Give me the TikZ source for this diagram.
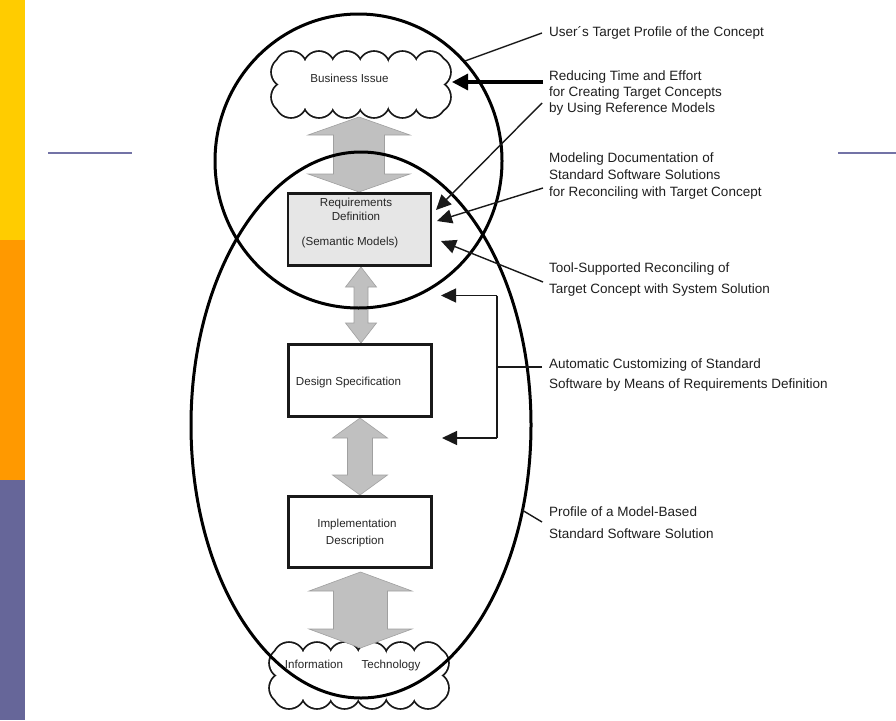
\documentclass[tikz,border=0pt]{standalone}
\usepackage{fontspec}
\setmainfont{Liberation Sans}
\usetikzlibrary{arrows.meta}
\definecolor{baryel}{HTML}{FFCC00}
\definecolor{barora}{HTML}{FF9900}
\definecolor{barpur}{HTML}{666699}
\definecolor{rulepur}{HTML}{7373A6}
\definecolor{arrgray}{HTML}{C0C0C0}
\definecolor{arredge}{HTML}{A0A0A0}
\definecolor{reqfill}{HTML}{E6E6E6}
\newcommand\dblarrow[6]{% cx, ytop, ybot, shaft half, head half, head length
  \filldraw[grayarr] (#1,#2) -- ({#1+#5},{#2+#6}) -- ({#1+#4},{#2+#6}) -- ({#1+#4},{#3-#6}) -- ({#1+#5},{#3-#6}) -- (#1,#3) -- ({#1-#5},{#3-#6}) -- ({#1-#4},{#3-#6}) -- ({#1-#4},{#2+#6}) -- ({#1-#5},{#2+#6}) -- cycle;}
\newcommand\cloudbumps[1]{%
  \foreach \cx in {291,319,346.5,374,402.5,430} {
    \path[#1] (\cx,67) circle[radius=15];
    \path[#1] (\cx,102) circle[radius=15];
  }
  \foreach \cy in {72,97} {
    \path[#1] (287,\cy) circle[radius=15];
    \path[#1] (435,\cy) circle[radius=15];
  }
}
\newcommand\cloudshape{%
  \cloudbumps{draw=black!90, line width=3.6pt}
  \cloudbumps{fill=white}
  \fill[white] (287,67) rectangle (435,102);
}
\begin{document}
\begin{tikzpicture}[x=1pt,y=-1pt,
  grayarr/.style={fill=arrgray, draw=arredge, line width=0.6pt},
  box/.style={draw=black!90, line width=2.8pt, minimum width=143pt, inner sep=0pt},
  boxtext/.style={font=\fontsize{11.6}{14}\selectfont, text=black!85, inner sep=0pt, anchor=base},
  lab/.style={font=\fontsize{13.5}{16}\selectfont, text=black!88, inner sep=0pt, anchor=base west},
  bigline/.style={draw=black, line width=3pt},
  thinln/.style={draw=black!90, line width=1.4pt},
  thinarr/.style={thinln, -{Triangle[length=15pt,width=14pt]}},
  thickarr/.style={draw=black, line width=3.2pt, -{Triangle[length=16pt,width=16pt]}},
  rule/.style={draw=rulepur, line width=2pt}
]
\useasboundingbox (0,0) rectangle (896,720);
\fill[white] (0,0) rectangle (896,720);
% side bar
\fill[baryel] (0,0) rectangle (25,240);
\fill[barora] (0,240) rectangle (25,480);
\fill[barpur] (0,480) rectangle (25,720);
% rules
\draw[rule] (48,152.5) -- (132,152.5);
\draw[rule] (838,152.5) -- (896,152.5);
% clouds
\begin{scope}
  \cloudshape
\end{scope}
\begin{scope}[shift={(-2,591)}]
  \cloudshape
\end{scope}
\node[boxtext] (biz) at (349.5,82) {Business Issue};
\node[boxtext] (inf) at (314,668) {Information};
\node[boxtext] (tec) at (391,668) {Technology};
% gray double arrows
\dblarrow{359}{117}{192}{25.5}{51}{18}
\dblarrow{361}{267}{343}{7}{15.5}{20}
\dblarrow{360}{418}{495}{12.5}{27.5}{20}
\dblarrow{360.5}{572}{648}{27}{51.5}{19}
% boxes
\node[box, fill=reqfill, minimum height=72pt] (req) at (359.5,229.5) {};
\node[box, fill=white, minimum height=72pt] (des) at (360,380.5) {};
\node[box, fill=white, minimum height=71pt] (imp) at (360,532) {};
\node[boxtext] (req1) at (356,206.5) {Requirements};
\node[boxtext] (req2) at (356,220) {Definition};
\node[boxtext] (req3) at (350,245) {(Semantic Models)};
\node[boxtext] (des1) at (348.5,385) {Design Specification};
\node[boxtext] (imp1) at (357,527) {Implementation};
\node[boxtext] (imp2) at (355,544) {Description};
% profile outlines
\draw[bigline] (358.5,161) ellipse[x radius=143.5, y radius=147];
\draw[bigline] (361,425) ellipse[x radius=170, y radius=273];
% labels
\node[lab] (u1) at (549,36.5) {User´s Target Profile of the Concept};
\node[lab] (r1) at (549,80.5) {Reducing Time and Effort};
\node[lab] (r2) at (549,96.5) {for Creating Target Concepts};
\node[lab] (r3) at (549,112.5) {by Using Reference Models};
\node[lab] (m1) at (549,162.5) {Modeling Documentation of};
\node[lab] (m2) at (549,179) {Standard Software Solutions};
\node[lab] (m3) at (549,196.5) {for Reconciling with Target Concept};
\node[lab] (t1) at (549,272.5) {Tool-Supported Reconciling of};
\node[lab] (t2) at (549,293.5) {Target Concept with System Solution};
\node[lab] (a1) at (549,368.5) {Automatic Customizing of Standard};
\node[lab] (a2) at (549,388.5) {Software by Means of Requirements Definition};
\node[lab] (p1) at (549,516.5) {Profile of a Model-Based};
\node[lab] (p2) at (549,538.5) {Standard Software Solution};
% connector end points
\coordinate (uA) at (465,61);   \coordinate (uB) at (542,33);
\coordinate (rA) at (543,82);   \coordinate (rB) at (452,82);
\coordinate (rC) at (542,103);  \coordinate (rD) at (436,210);
\coordinate (mA) at (543,188);  \coordinate (mB) at (437,221);
\coordinate (tA) at (543,282);  \coordinate (tB) at (441,241);
\coordinate (bT) at (497,295.5); \coordinate (bTt) at (441,295.5);
\coordinate (bB) at (497,438);  \coordinate (bBt) at (442,438);
\coordinate (bM) at (497,367);  \coordinate (aA) at (542,367);
\coordinate (pA) at (522,510);  \coordinate (pB) at (542,522);
% connectors
\draw[thinln] (uA) -- (uB);
\draw[thickarr] (rA) -- (rB);
\draw[thinarr] (rC) -- (rD);
\draw[thinarr] (mA) -- (mB);
\draw[thinarr] (tA) -- (tB);
\draw[thinln] (bT) -- (bB);
\draw[thinarr] (bT) -- (bTt);
\draw[thinarr] (bB) -- (bBt);
\draw[thinln] (aA) -- (bM);
\draw[thinln] (pA) -- (pB);
\end{tikzpicture}
\end{document}
